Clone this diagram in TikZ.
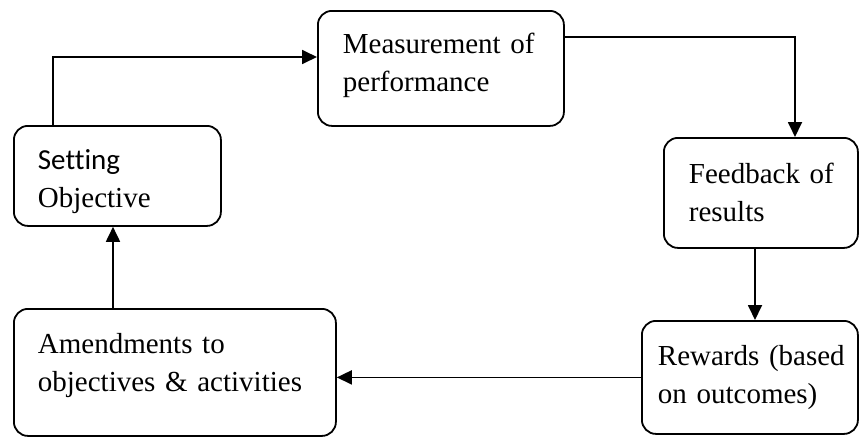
\documentclass[tikz,border=0pt]{standalone}
\usepackage{fontspec}
\setmainfont{Liberation Serif}
\newfontfamily\calibrifont[Ligatures=NoCommon]{Carlito}
\usetikzlibrary{arrows.meta}

\begin{document}
\begin{tikzpicture}[
  x=1pt, y=-1pt,
  block/.style={
    rectangle, draw, rounded corners=14pt, line width=1.8pt,
    anchor=north west, align=left,
    font=\fontsize{29}{38}\selectfont,
    inner xsep=24pt, inner ysep=0pt
  },
  arr/.style={-{Triangle[length=15pt,width=14pt]}, line width=1.8pt}
]
\useasboundingbox (0,0) rectangle (862,437);

% Blocks
\node[block, minimum width=207pt, minimum height=100pt, text width=159pt]
  (Setting) at (13,125) {\rule{0pt}{32pt}{\calibrifont Setting}\\Objective};

\node[block, minimum width=246pt, minimum height=115pt, text width=196pt]
  (Measurement) at (317,10) {Measurement~of\\performance\rule[-12pt]{0pt}{0pt}};

\node[block, minimum width=194pt, minimum height=110pt, text width=144pt]
  (Feedback) at (663,137) {Feedback~of\\results};

\node[block, inner xsep=16pt, minimum width=216pt, minimum height=113pt, text width=184pt]
  (Rewards) at (641,320) {Rewards~(based\\on outcomes)};

\node[block, minimum width=322pt, minimum height=127pt, text width=274pt]
  (Amendments) at (13,308) {Amendments to\\objectives \& activities\rule[-20pt]{0pt}{0pt}};

% Edges
\coordinate (fbout) at ([xshift=92pt]Feedback.south west);
\coordinate (amout) at ([xshift=100pt]Amendments.north west);

\draw[arr] ([xshift=40pt]Setting.north west) |- ([yshift=-47pt]Measurement.north west);
\draw[arr] ([yshift=-27pt]Measurement.north east) -| ([xshift=132pt]Feedback.north west);
\draw[arr] (fbout) -- (fbout |- Rewards.north);
\draw[arr] (Rewards.west) -- (Rewards.west -| Amendments.east);
\draw[arr] (amout) -- (amout |- Setting.south);

\end{tikzpicture}
\end{document}
